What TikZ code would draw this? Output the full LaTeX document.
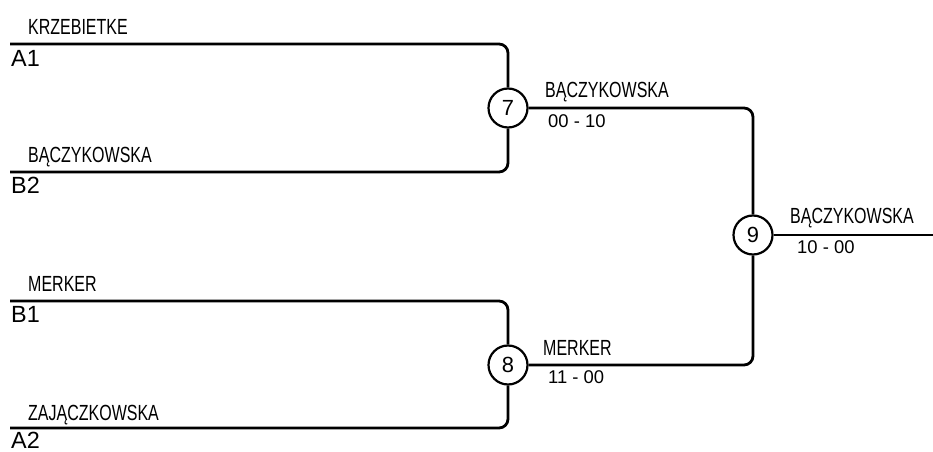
\documentclass[tikz,border=0pt]{standalone}
\usepackage{fontspec}
\setmainfont{Liberation Sans}
\newfontfamily\condfont[FakeStretch=0.73]{Liberation Sans}
\usetikzlibrary{positioning}

\tikzstyle{match} = [circle, draw=black, line width=2.2bp, minimum size=39bp, inner sep=0pt, font=\fontsize{22}{22}\selectfont]
\tikzstyle{player} = [anchor=base west, inner sep=0pt, font=\condfont\fontsize{22}{22}\selectfont]
\tikzstyle{seed} = [anchor=base west, inner sep=0pt, font=\fontsize{23.5}{23.5}\selectfont]
\tikzstyle{score} = [anchor=base west, inner sep=0pt, font=\fontsize{18.5}{18.5}\selectfont]
\tikzstyle{line} = [line width=2.8bp, rounded corners=9bp]

\begin{document}
\begin{tikzpicture}[x=1bp, y=-1bp]
        \useasboundingbox (0,0) rectangle (933,452);

        % Nodes for matches
        \node (m7) [match] at (508,108) {7};
        \node (m8) [match] at (508,365) {8};
        \node (m9) [match] at (753,235) {9};

        % Free ends of the lines
        \coordinate (a1) at (10,44);
        \coordinate (b2) at (10,172);
        \coordinate (b1) at (10,301);
        \coordinate (a2) at (10,428);
        \coordinate (final) at (933,235);

        % Names and seeds of the first round
        \node (krzebietke) [player] at (28,35) {KRZEBIETKE};
        \node (seedA1) [seed] at (11,67) {A1};
        \node (baczykowska) [player] at (28,163) {BĄCZYKOWSKA};
        \node (seedB2) [seed] at (11,194) {B2};
        \node (merker) [player] at (28,292) {MERKER};
        \node (seedB1) [seed] at (11,323) {B1};
        \node (zajaczkowska) [player] at (28,420) {ZAJĄCZKOWSKA};
        \node (seedA2) [seed] at (11,448) {A2};

        % Winners and scores
        \node (win7) [player] at (545,98) {BĄCZYKOWSKA};
        \node (score7) [score] at (548,128) {00 - 10};
        \node (win8) [player] at (543,356) {MERKER};
        \node (score8) [score] at (548,384) {11 - 00};
        \node (win9) [player] at (790,224) {BĄCZYKOWSKA};
        \node (score9) [score] at (797,254) {10 - 00};

        % Lines into the matches
        \draw [line] (a1) -| (m7.north);
        \draw [line] (b2) -| (m7.south);
        \draw [line] (b1) -| (m8.north);
        \draw [line] (a2) -| (m8.south);

        % Lines to the final
        \draw [line] (m7.east) -| (m9.north);
        \draw [line] (m8.east) -| (m9.south);
        \draw [line] (m9.east) -- (final);

    \end{tikzpicture}
\end{document}
